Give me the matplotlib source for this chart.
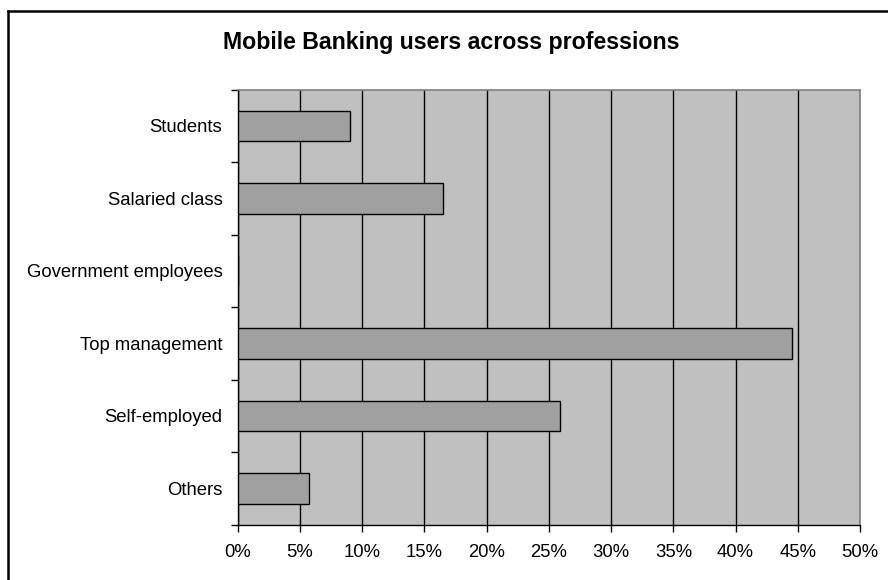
import matplotlib
matplotlib.use("Agg")
import matplotlib.pyplot as plt
from matplotlib.lines import Line2D
from matplotlib.ticker import FixedLocator, FuncFormatter
import numpy as np

categories = ["Students", "Salaried class", "Government employees",
              "Top management", "Self-employed", "Others"]
shares = [9.0, 16.5, 0.0, 44.5, 25.9, 5.7]
x_ticks = [0, 5, 10, 15, 20, 25, 30, 35, 40, 45, 50]
title = "Mobile Banking users across professions"

plt.rcParams["font.family"] = ["Liberation Sans", "DejaVu Sans"]

W, H = 888, 580
fig = plt.figure(figsize=(W / 100, H / 100), dpi=100)
fig.patch.set_facecolor("white")

left, right, top, bottom = 237.7, 860.0, 89.5, 524.6
ax = fig.add_axes([left / W, 1 - bottom / H, (right - left) / W, (bottom - top) / H])
ax.set_facecolor("#c0c0c0")

y = np.arange(len(categories))
ax.set_axisbelow(True)
ax.xaxis.grid(True, color="black", linewidth=1.0)
ax.barh(y, shares, height=0.42, color="#a0a0a0", edgecolor="black", linewidth=1.0, zorder=3)

ax.set_xlim(0, 50)
ax.set_ylim(len(categories) - 0.5, -0.5)
ax.set_xticks(x_ticks)
ax.xaxis.set_major_formatter(FuncFormatter(lambda v, p: f"{v:.0f}%"))
ax.tick_params(axis="x", direction="out", length=5, width=1, pad=9, labelsize=13.3, colors="black")

ax.set_yticks(y)
ax.set_yticklabels(categories)
ax.yaxis.set_minor_locator(FixedLocator(np.arange(-0.5, len(categories), 1.0)))
ax.tick_params(axis="y", which="major", length=0, pad=11, labelsize=13.3)
ax.tick_params(axis="y", which="minor", direction="out", length=5, width=1)

for side in ("left", "bottom"):
    ax.spines[side].set_color("black")
    ax.spines[side].set_linewidth(1.0)
for side in ("right", "top"):
    ax.spines[side].set_color("#808080")
    ax.spines[side].set_linewidth(1.2)

# outer chart frame (top and left edges visible)
fx0, fy0 = 7.5 / W, 1 - 10.5 / H
fig.add_artist(Line2D([fx0, 1.01], [fy0, fy0], transform=fig.transFigure, color="black", linewidth=1.8))
fig.add_artist(Line2D([fx0, fx0], [fy0, -0.01], transform=fig.transFigure, color="black", linewidth=1.8))

fig.text(451 / W, 1 - 42.5 / H, title, ha="center", va="center",
         fontsize=16.7, fontweight="bold")

fig.savefig("out.png", dpi=100)
